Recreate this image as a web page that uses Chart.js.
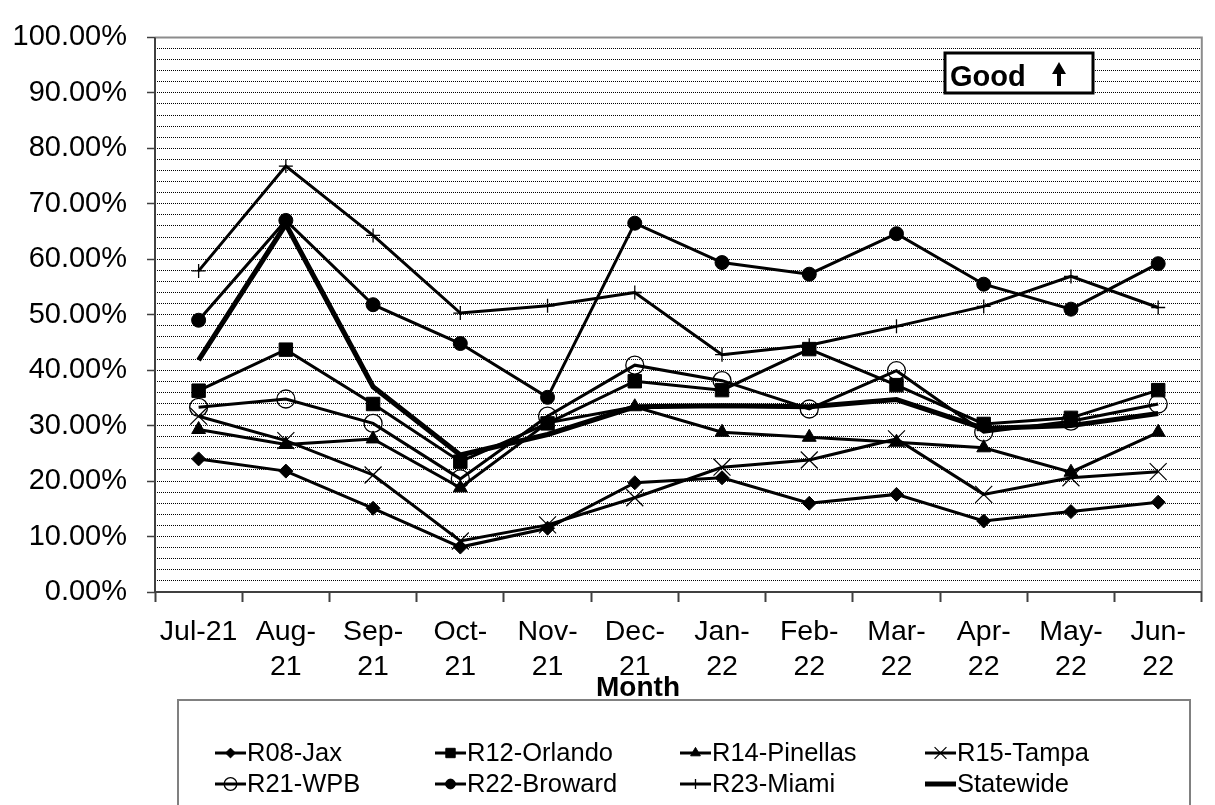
<!DOCTYPE html>
<html>
<head>
<meta charset="utf-8">
<script src="https://cdn.jsdelivr.net/npm/chart.js@4.4.0/dist/chart.umd.min.js"></script>
<style>
  html, body { margin: 0; padding: 0; background: #fff; }
  canvas { display: block; }
</style>
</head>
<body>
<canvas id="chart" width="1215" height="805"></canvas>
<script>
// Monthly rate by region, July 2021 - June 2022
const monthLabels = [
  ['Jul-21'], ['Aug-', '21'], ['Sep-', '21'], ['Oct-', '21'], ['Nov-', '21'], ['Dec-', '21'],
  ['Jan-', '22'], ['Feb-', '22'], ['Mar-', '22'], ['Apr-', '22'], ['May-', '22'], ['Jun-', '22']
];

const r08Jax      = [24.0, 21.8, 15.1,  8.1, 11.5, 19.7, 20.6, 16.0, 17.6, 12.8, 14.5, 16.2];
const r12Orlando  = [36.3, 43.7, 33.9, 23.5, 30.4, 38.0, 36.4, 43.8, 37.3, 30.3, 31.4, 36.4];
const r14Pinellas = [29.3, 26.6, 27.6, 18.8, 30.5, 33.4, 28.8, 27.9, 27.0, 26.0, 21.6, 28.8];
const r15Tampa    = [31.7, 27.3, 21.1,  9.2, 12.1, 17.0, 22.5, 23.8, 27.6, 17.6, 20.6, 21.7];
const r21WPB      = [33.3, 34.8, 30.4, 20.4, 31.7, 40.9, 38.1, 33.0, 39.9, 28.8, 30.8, 33.9];
const r22Broward  = [49.0, 67.0, 51.8, 44.8, 35.1, 66.5, 59.4, 57.3, 64.6, 55.5, 51.0, 59.2];
const r23Miami    = [57.9, 76.8, 64.3, 50.3, 51.6, 54.0, 42.8, 44.5, 47.9, 51.5, 56.9, 51.3];
const statewide   = [41.8, 66.3, 37.0, 24.7, 28.4, 33.4, 33.6, 33.4, 34.7, 29.5, 30.0, 32.2];

const yTickMax = 100;
const yMajorStep = 10;
const yMinorStep = 2;

const FONT = "'Liberation Sans', Arial, sans-serif";

function series(label, data, style, radius, fill, lineWidth, pointBorder) {
  return {
    label: label,
    data: data,
    borderColor: '#000',
    backgroundColor: fill,
    borderWidth: lineWidth,
    pointStyle: style,
    pointRadius: radius,
    pointBackgroundColor: fill,
    pointBorderColor: '#000',
    pointBorderWidth: pointBorder,
    tension: 0,
    fill: false
  };
}

const datasets = [
  series('R08-Jax',      r08Jax,      'rectRot',  7,  '#000', 3, 1),
  series('R12-Orlando',  r12Orlando,  'rect',     9.5, '#000', 3, 1),
  series('R14-Pinellas', r14Pinellas, 'triangle', 8,  '#000', 3, 1),
  series('R15-Tampa',    r15Tampa,    'crossRot', 12, '#000', 3, 1.2),
  series('R21-WPB',      r21WPB,      'circle',   9,  'rgba(0,0,0,0)', 3, 1.3),
  series('R22-Broward',  r22Broward,  'circle',   7,  '#000', 3, 1),
  series('R23-Miami',    r23Miami,    'cross',    7,  '#000', 3, 1.3),
  series('Statewide',    statewide,   'line',     0,  '#000', 5, 1)
];

// Plot frame, axis lines, "Good" note, axis title and the boxed legend
const decorations = {
  id: 'decorations',
  beforeDatasetsDraw(chart) {
    const { ctx, chartArea: a } = chart;
    ctx.save();
    ctx.strokeStyle = '#8c8c8c';
    ctx.lineWidth = 2;
    ctx.beginPath();
    ctx.moveTo(a.left, a.top);
    ctx.lineTo(a.right, a.top);
    ctx.lineTo(a.right, a.bottom);
    ctx.stroke();
    ctx.strokeStyle = '#404040';
    ctx.beginPath();
    ctx.moveTo(a.left, a.top);
    ctx.lineTo(a.left, a.bottom);
    ctx.lineTo(a.right, a.bottom);
    ctx.stroke();
    ctx.restore();
  },
  afterDraw(chart) {
    const { ctx } = chart;
    ctx.save();

    // "Good" note box with upward arrow
    const bx = 945, by = 53, bw = 148, bh = 40;
    ctx.fillStyle = '#fff';
    ctx.fillRect(bx, by, bw, bh);
    ctx.strokeStyle = '#000';
    ctx.lineWidth = 3;
    ctx.strokeRect(bx, by, bw, bh);
    ctx.fillStyle = '#000';
    ctx.font = 'bold 29px ' + FONT;
    ctx.textBaseline = 'alphabetic';
    ctx.textAlign = 'left';
    ctx.fillText('Good', bx + 5, by + 33);
    ctx.beginPath();
    ctx.moveTo(1059, 62);
    ctx.lineTo(1066, 74);
    ctx.lineTo(1061, 74);
    ctx.lineTo(1061, 86);
    ctx.lineTo(1057, 86);
    ctx.lineTo(1057, 74);
    ctx.lineTo(1052, 74);
    ctx.closePath();
    ctx.fill();

    // axis title
    ctx.font = 'bold 28px ' + FONT;
    ctx.textAlign = 'center';
    ctx.fillText('Month', 638, 696);

    // legend box
    ctx.strokeStyle = '#808080';
    ctx.lineWidth = 2;
    ctx.beginPath();
    ctx.moveTo(178, 810);
    ctx.lineTo(178, 700);
    ctx.lineTo(1190, 700);
    ctx.lineTo(1190, 810);
    ctx.stroke();

    const colX = [215, 435, 680, 925];
    const rowY = [753, 784];
    ctx.font = '25.5px ' + FONT;
    ctx.textAlign = 'left';
    ctx.textBaseline = 'middle';
    chart.data.datasets.forEach((ds, i) => {
      const x0 = colX[i % 4];
      const y = rowY[Math.floor(i / 4)];
      ctx.strokeStyle = '#000';
      ctx.lineWidth = ds.borderWidth;
      ctx.beginPath();
      ctx.moveTo(x0, y);
      ctx.lineTo(x0 + 31, y);
      ctx.stroke();
      if (ds.pointRadius > 0) {
        ctx.fillStyle = ds.pointBackgroundColor;
        ctx.strokeStyle = '#000';
        ctx.lineWidth = ds.pointBorderWidth;
        Chart.helpers.drawPoint(ctx, {
          pointStyle: ds.pointStyle,
          radius: ds.pointRadius * 0.7,
          borderWidth: ds.pointBorderWidth,
          rotation: 0
        }, x0 + 15.5, y);
      }
      ctx.fillStyle = '#000';
      ctx.fillText(ds.label, x0 + 32, y + 1);
    });

    ctx.restore();
  }
};

new Chart(document.getElementById('chart'), {
  type: 'line',
  data: { labels: monthLabels, datasets: datasets },
  options: {
    responsive: false,
    animation: false,
    devicePixelRatio: 1,
    layout: { padding: { top: 23, right: 12, left: 0, bottom: 0 } },
    plugins: { legend: { display: false }, tooltip: { enabled: false } },
    scales: {
      x: {
        type: 'category',
        offset: true,
        afterFit(scale) { scale.height = 213; },
        grid: {
          offset: true,
          drawOnChartArea: false,
          drawTicks: true,
          tickLength: 10,
          tickColor: '#404040',
          tickWidth: 2
        },
        border: { display: false },
        ticks: {
          autoSkip: false,
          maxRotation: 0,
          minRotation: 0,
          color: '#000',
          padding: 13,
          font: { family: FONT, size: 28.5, lineHeight: 1.23 }
        }
      },
      y: {
        min: 0,
        max: yTickMax,
        afterFit(scale) { scale.width = 155; },
        afterBuildTicks(scale) {
          const t = [];
          for (let v = 0; v <= yTickMax; v += yMinorStep) t.push({ value: v });
          scale.ticks = t;
        },
        grid: {
          color: (c) => (c.tick && (c.tick.value === 0 || c.tick.value === yTickMax)) ? 'rgba(0,0,0,0)' : '#000',
          lineWidth: 1,
          borderDash: [1, 1],
          drawTicks: true,
          tickLength: 8,
          tickWidth: 1.5,
          tickColor: (c) => (c.tick && c.tick.value % yMajorStep === 0) ? '#404040' : 'rgba(0,0,0,0)'
        },
        border: { display: false, dash: [1, 1] },
        ticks: {
          autoSkip: false,
          padding: 20,
          color: '#000',
          font: { family: FONT, size: 29 },
          callback: (v) => (v % yMajorStep === 0) ? v.toFixed(2) + '%' : ''
        }
      }
    }
  },
  plugins: [decorations]
});
</script>
</body>
</html>
